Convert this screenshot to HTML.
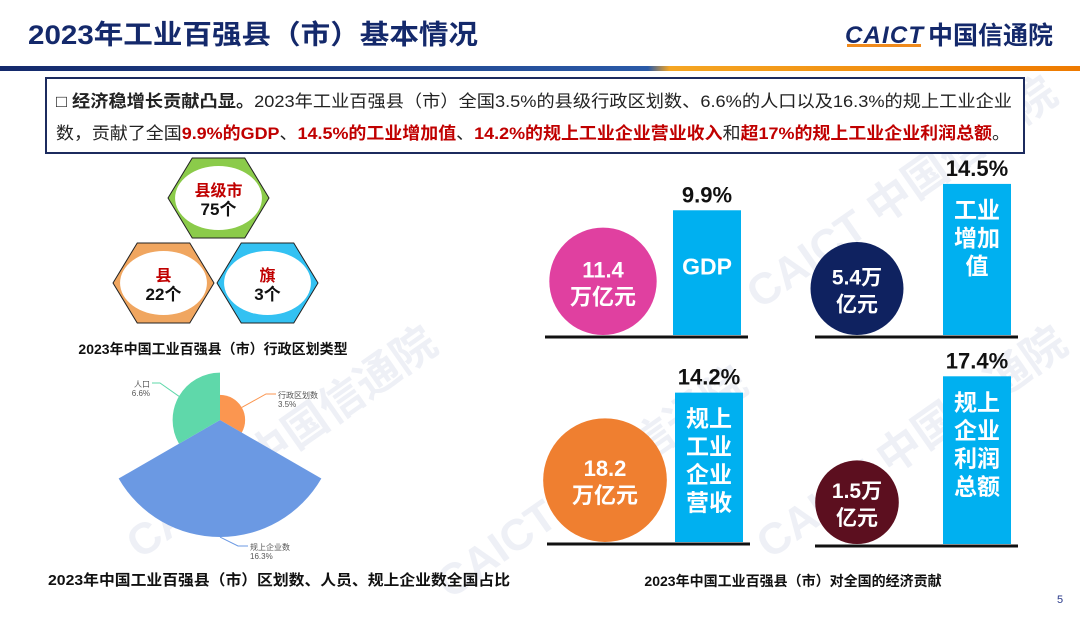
<!DOCTYPE html>
<html><head><meta charset="utf-8"><style>
body{margin:0;width:1080px;height:622px;overflow:hidden;background:#fff;font-family:"Liberation Sans","Noto Sans CJK SC",sans-serif}
svg{position:absolute;left:0;top:0}
</style></head><body>
<svg width="1080" height="622" viewBox="0 0 1080 622" xmlns="http://www.w3.org/2000/svg" font-family="Liberation Sans, Noto Sans CJK SC, sans-serif">
<g fill="#d5dae8" opacity="0.4" font-weight="bold" font-size="44">
<text transform="translate(140,560) rotate(-35)">CAICT 中国信通院</text>
<text transform="translate(450,600) rotate(-35)">CAICT 中国信通院</text>
<text transform="translate(760,310) rotate(-35)">CAICT 中国信通院</text>
<text transform="translate(770,560) rotate(-35)">CAICT 中国信通院</text>
</g>
<text x="28" y="44" font-size="27" font-weight="bold" fill="#14296b" textLength="450" lengthAdjust="spacingAndGlyphs">2023年工业百强县（市）基本情况</text>
<g>
<text x="845" y="43" font-size="24" font-weight="bold" font-style="italic" fill="#14296b" textLength="78">CAICT</text>
<rect x="847" y="44" width="74" height="3" fill="#f08a1c"/>
<text x="928" y="44" font-size="25" font-weight="bold" fill="#14296b">中国信通院</text>
</g>
<defs><linearGradient id="hl" x1="0" x2="1"><stop offset="0" stop-color="#14296b"/><stop offset="0.6" stop-color="#2a5aa8"/><stop offset="0.62" stop-color="#f5a623"/><stop offset="1" stop-color="#ee7a00"/></linearGradient></defs>
<rect x="0" y="66" width="1080" height="5" fill="url(#hl)"/>
<rect x="46" y="78" width="978" height="75" fill="#fff" stroke="#1c2b5e" stroke-width="2"/>
<text x="56" y="107" font-size="17" fill="#222" textLength="956" lengthAdjust="spacingAndGlyphs"><tspan font-weight="bold">□ 经济稳增长贡献凸显。</tspan>2023年工业百强县（市）全国3.5%的县级行政区划数、6.6%的人口以及16.3%的规上工业企业</text>
<text x="56" y="139" font-size="17" fill="#222" textLength="954" lengthAdjust="spacingAndGlyphs">数，贡献了全国<tspan fill="#c00000" font-weight="bold">9.9%的GDP</tspan>、<tspan fill="#c00000" font-weight="bold">14.5%的工业增加值</tspan>、<tspan fill="#c00000" font-weight="bold">14.2%的规上工业企业营业收入</tspan>和<tspan fill="#c00000" font-weight="bold">超17%的规上工业企业利润总额</tspan>。</text>
<g id="hexes"></g>
<text x="213" y="354" font-size="14" font-weight="bold" text-anchor="middle" fill="#111">2023年中国工业百强县（市）行政区划类型</text>
<g id="pie"></g>
<text x="48" y="585" font-size="15" font-weight="bold" fill="#111" textLength="462" lengthAdjust="spacingAndGlyphs">2023年中国工业百强县（市）区划数、人员、规上企业数全国占比</text>
<g id="econ"></g>
<text x="793" y="586" font-size="14" font-weight="bold" text-anchor="middle" fill="#111">2023年中国工业百强县（市）对全国的经济贡献</text>
<text x="1057" y="603" font-size="11" fill="#2a3a8a">5</text>
</svg>
<script>
const NS='http://www.w3.org/2000/svg';
const hexNames=['县级市','县','旗'];
const hexCounts=[75,22,3];
const pieNames=['行政区划数','规上企业数','人口'];
const pieValues=[3.5,16.3,6.6];
const econAmounts=['11.4','5.4万','18.2','1.5万'];
const econAmountValues=[11.4,5.4,18.2,1.5];
const econShares=[9.9,14.5,14.2,17.4];
const econLabels=[['GDP'],['工业','增加','值'],['规上','工业','企业','营收'],['规上','企业','利润','总额']];
function mk(tag,attrs,parent){const e=document.createElementNS(NS,tag);for(const k in attrs)e.setAttribute(k,attrs[k]);parent.appendChild(e);return e;}
const hexG=document.getElementById('hexes');
const hexBoxes=[[168,158],[113,243],[217,243]];
const hexColors=['#8bcb4a','#f0a660','#33c1f2'];
hexNames.forEach((n,i)=>{
 const [x,y]=hexBoxes[i],w=101,h=80;
 const g=mk('g',{},hexG);
 
 
 mk('polygon',{points:`${x},${y+h/2} ${x+w*0.24},${y} ${x+w*0.76},${y} ${x+w},${y+h/2} ${x+w*0.76},${y+h} ${x+w*0.24},${y+h}`,fill:hexColors[i],stroke:'#222','stroke-width':1},g);
 mk('ellipse',{cx:x+w/2,cy:y+h/2,rx:w*0.43,ry:h*0.4,fill:'#fff'},g);
 const t1=mk('text',{x:x+w/2,y:y+h/2-2,'text-anchor':'middle','font-size':16,'font-weight':'bold',fill:'#c00000'},g);t1.textContent=n;
 
 
 const t2=mk('text',{x:x+w/2,y:y+h/2+17,'text-anchor':'middle','font-size':17,'font-weight':'bold',fill:'#111'},g);t2.textContent=hexCounts[i]+'个';
 
 
});
const pieG=document.getElementById('pie');
const cx=220,cy=420,rs=7.18;
const pieColors=['#fb9650','#6b99e3','#5fd8aa'];
const labelPos=[[278,398,'start'],[250,550,'start'],[150,387,'end']];
pieValues.forEach((v,i)=>{
 const a0=i*2*Math.PI/pieValues.length,a1=(i+1)*2*Math.PI/pieValues.length,r=v*rs;
 const p=(a,rr)=>[cx+rr*Math.sin(a),cy-rr*Math.cos(a)];
 const [x0,y0]=p(a0,r),[x1,y1]=p(a1,r);
 const s=mk('path',{d:`M${cx},${cy} L${x0},${y0} A${r},${r} 0 0 1 ${x1},${y1} Z`,fill:pieColors[i]},pieG);
 
 
 const am=(a0+a1)/2,[mx,my]=p(am,r),[lx,ly]=labelPos[i];
 const ln=mk('polyline',{points:`${mx},${my} ${lx+(labelPos[i][2]==='end'?10:-12)},${ly-4} ${lx+(labelPos[i][2]==='end'?2:-2)},${ly-4}`,fill:'none',stroke:pieColors[i],'stroke-width':1},pieG);
 
 
 const t=mk('text',{x:lx,y:ly,'font-size':8,fill:'#555','text-anchor':labelPos[i][2]},pieG);
 
 
 const a=mk('tspan',{x:lx},t);a.textContent=pieNames[i];
 const b=mk('tspan',{x:lx,dy:9},t);b.textContent=v+'%';
});
const eG=document.getElementById('econ');
const panels=[[545,337],[815,337],[547,544],[815,546]];
const circColors=['#e040a0','#0f2260','#ef7f30','#5c0f1f'];
const barH=v=>68+5.73*v;
const circR=v=>40+1.2*v;
econShares.forEach((v,i)=>{
 const [px,base]=panels[i];
 const g=mk('g',{},eG);
 
 
 const r=circR(econAmountValues[i]),ccx=px+(i%2?42:58),ccy=base-2-r;
 const c=mk('circle',{cx:ccx,cy:ccy,r:r,fill:circColors[i]},g);
 
 
 const ct=mk('text',{'text-anchor':'middle','font-size':i%2?21:22,'font-weight':'bold',fill:'#fff'},g);
 
 
 const c1=mk('tspan',{x:ccx,y:ccy-4},ct);c1.textContent=econAmounts[i];
 const c2=mk('tspan',{x:ccx,dy:27},ct);c2.textContent=i%2?'亿元':'万亿元';
 const bx=px+128,h=barH(v);
 const b=mk('rect',{x:bx,y:base-2-h,width:68,height:h,fill:'#00b0f0'},g);
 
 
 const vt=mk('text',{x:bx+34,y:base-2-h-8,'text-anchor':'middle','font-size':22,'font-weight':'bold',fill:'#111'},g);vt.textContent=v+'%';
 
 
 econLabels[i].forEach((l,j)=>{
  const lt=mk('text',{x:bx+34,y:base-2-h+(i===0?64:34)+j*28,'text-anchor':'middle','font-size':23,'font-weight':'bold',fill:'#fff'},g);lt.textContent=l;
  
  
 });
 const bl=mk('line',{x1:px,y1:base,x2:px+203,y2:base,stroke:'#111','stroke-width':3},g);
 
 
});
</script>
</body></html>
